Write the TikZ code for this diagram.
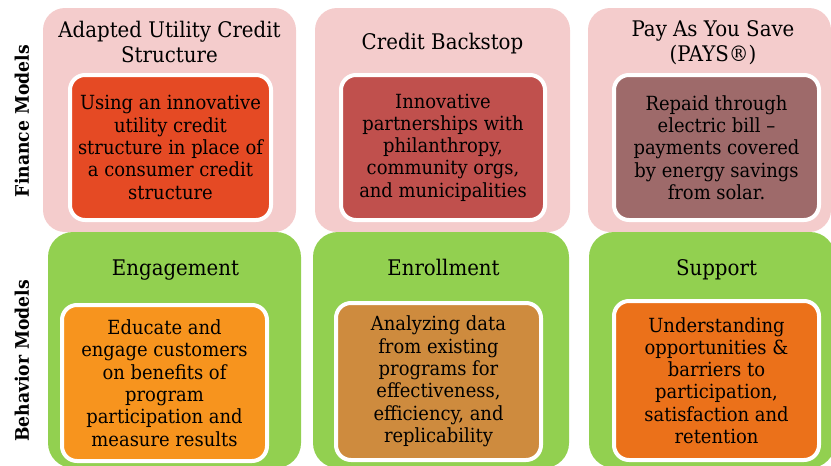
\documentclass[tikz,border=0pt]{standalone}
\usepackage{fontspec}
\setmainfont[FakeStretch=0.92]{DejaVu Serif}
\definecolor{pinkbg}{HTML}{F4CCCC}
\definecolor{greenbg}{HTML}{92D050}
\definecolor{finA}{HTML}{E54A24}
\definecolor{finB}{HTML}{C0504D}
\definecolor{finC}{HTML}{9E6A6A}
\definecolor{behA}{HTML}{F7941E}
\definecolor{behB}{HTML}{CE8B3E}
\definecolor{behC}{HTML}{EB711A}
\tikzset{
  pinkbox/.style={fill=pinkbg, rounded corners=22pt, inner sep=0pt, minimum height=224pt},
  greenbox/.style={fill=greenbg, rounded corners=25pt, inner sep=0pt, minimum height=236pt},
  innerbox/.style={draw=white, line width=4pt, rounded corners=15pt, inner sep=0pt, align=center,
    font=\fontsize{19.5}{22.3}\selectfont},
  titletext/.style={align=center, inner sep=0pt, anchor=base, font=\fontsize{21.5}{25}\selectfont},
  sidelabel/.style={rotate=90, inner sep=0pt, font=\fontsize{18.7}{22}\selectfont\bfseries}
}
\begin{document}
\begin{tikzpicture}[x=1pt,y=-1pt]
\useasboundingbox (0,0) rectangle (831,466);
\clip (0,0) rectangle (831,466);
% outer boxes
\node[pinkbox, minimum width=253pt] (f1) at (169.5,120) {};
\node[pinkbox, minimum width=255pt] (f2) at (442.5,120) {};
\node[pinkbox, minimum width=243pt] (f3) at (709.5,120) {};
\node[greenbox, minimum width=253pt] (b1) at (174.5,350) {};
\node[greenbox, minimum width=256pt] (b2) at (441,350) {};
\node[greenbox, minimum width=246pt] (b3) at (712,350) {};
% side labels
\node[sidelabel] (lf) at (22,121) {Finance Models};
\node[sidelabel] (lb) at (22,361) {Behavior Models};
% titles
\node[titletext] (tf1) at (169.5,62) {Adapted Utility Credit\\Structure};
\node[titletext] (tf2) at (442.5,49) {Credit Backstop};
\node[titletext] (tf3) at (713,61) {Pay As You Save\\(PAYS®)};
\node[titletext] (tb1) at (175.5,275) {Engagement};
\node[titletext] (tb2) at (443.5,275) {Enrollment};
\node[titletext] (tb3) at (716.5,275) {Support};
% inner boxes
\node[innerbox, fill=finA, minimum width=201pt, minimum height=145pt] (if1) at (170.5,147.5)
  {Using an innovative\\utility credit\\structure in place of\\a consumer credit\\structure};
\node[innerbox, fill=finB, minimum width=204pt, minimum height=145pt] (if2) at (443,147.5)
  {Innovative\\partnerships with\\philanthropy,\\community orgs,\\and municipalities};
\node[innerbox, fill=finC, minimum width=205pt, minimum height=145pt] (if3) at (716.5,147.5)
  {Repaid through\\electric bill --\\payments covered\\by energy savings\\from solar.};
\node[innerbox, fill=behA, minimum width=205pt, minimum height=156pt] (ib1) at (164.5,383)
  {Educate and\\engage customers\\on benefits of\\program\\participation and\\measure results};
\node[innerbox, fill=behB, minimum width=205pt, minimum height=157pt] (ib2) at (438.5,381.5)
  {Analyzing data\\from existing\\programs for\\effectiveness,\\efficiency, and\\replicability};
\node[innerbox, fill=behC, minimum width=205pt, minimum height=159pt] (ib3) at (716.5,380.5)
  {Understanding\\opportunities \&\\barriers to\\participation,\\satisfaction and\\retention};
\end{tikzpicture}
\end{document}
